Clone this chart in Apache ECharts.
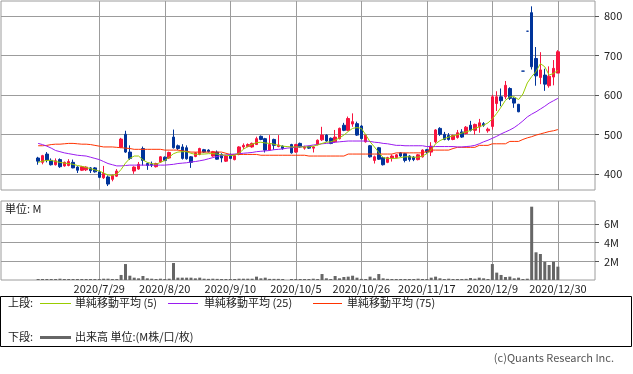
<!DOCTYPE html>
<html><head><meta charset="utf-8">
<script src="https://cdn.jsdelivr.net/npm/echarts@6/dist/echarts.min.js"></script>
<style>html,body{margin:0;padding:0;background:#fff}#c{width:633px;height:374px}</style>
</head><body><div id="c"></div>
<script>
// ---- categories (trading days) ----
const dates = ['2020/6/25','2020/6/26','2020/6/29','2020/6/30','2020/7/1','2020/7/2','2020/7/3','2020/7/6','2020/7/7','2020/7/8',
'2020/7/9','2020/7/10','2020/7/13','2020/7/14','2020/7/15','2020/7/16','2020/7/17','2020/7/20','2020/7/21','2020/7/22',
'2020/7/27','2020/7/28','2020/7/29','2020/7/30','2020/7/31','2020/8/3','2020/8/4','2020/8/5','2020/8/6','2020/8/7',
'2020/8/11','2020/8/12','2020/8/13','2020/8/14','2020/8/17','2020/8/18','2020/8/19','2020/8/20','2020/8/21','2020/8/24',
'2020/8/25','2020/8/26','2020/8/27','2020/8/28','2020/8/31','2020/9/1','2020/9/2','2020/9/3','2020/9/4','2020/9/7',
'2020/9/8','2020/9/9','2020/9/10','2020/9/11','2020/9/14','2020/9/15','2020/9/16','2020/9/17','2020/9/18','2020/9/23',
'2020/9/24','2020/9/25','2020/9/28','2020/9/29','2020/9/30','2020/10/1','2020/10/2','2020/10/5','2020/10/6','2020/10/7',
'2020/10/8','2020/10/9','2020/10/12','2020/10/13','2020/10/14','2020/10/15','2020/10/16','2020/10/19','2020/10/20','2020/10/21',
'2020/10/22','2020/10/23','2020/10/26','2020/10/27','2020/10/28','2020/10/29','2020/10/30','2020/11/2','2020/11/4','2020/11/5',
'2020/11/6','2020/11/9','2020/11/10','2020/11/11','2020/11/12','2020/11/13','2020/11/16','2020/11/17','2020/11/18','2020/11/19',
'2020/11/20','2020/11/24','2020/11/25','2020/11/26','2020/11/27','2020/11/30','2020/12/1','2020/12/2','2020/12/3','2020/12/4',
'2020/12/7','2020/12/8','2020/12/9','2020/12/10','2020/12/11','2020/12/14','2020/12/15','2020/12/16','2020/12/17','2020/12/18',
'2020/12/21','2020/12/22','2020/12/23','2020/12/24','2020/12/25','2020/12/28','2020/12/29','2020/12/30',
'2021/1/4','2021/1/5','2021/1/6','2021/1/7','2021/1/8','2021/1/12','2021/1/13','2021/1/14'];
const tickLabels = ['2020/7/29','2020/8/20','2020/9/10','2020/10/5','2020/10/26','2020/11/17','2020/12/9','2020/12/30'];
const firstDate = '2020/7/7';
const priceTicks = [400,500,600,700,800];
const volumeTicks = [2,4,6];

// ---- series values, from 2020/7/7 to 2020/12/30 ----
const open = [441,430,451,435,424,437,421,422,430,418,
410,411,416,416,406,391,393,387,395,468,
501,456,408,413,465,427,425,419,431,443,
441,494,472,469,467,444,445,450,462,461,
446,456,450,433,450,437,450,469,470,469,
475,496,490,461,488,470,471,null,475,456,
478,466,470,466,475,487,499,491,482,490,
524,511,527,528,522,482,472,435,467,442,
430,441,442,454,452,446,443,437,444,462,
456,482,516,501,498,488,493,507,503,524,
511,520,528,510,521,579,596,596,617,592,
577,661,762,809,693,645,651,624,646,656];
const close = [433,447,436,424,434,419,430,432,416,410,
419,418,409,406,392,402,375,397,408,489,
456,440,418,425,435,422,423,427,444,435,
455,467,465,440,439,430,454,465,456,457,
457,438,441,446,440,447,469,473,475,478,
490,488,461,475,473,474,465,null,454,475,
469,469,466,469,486,499,484,478,494,516,
511,541,533,499,490,499,444,444,438,424,
442,446,449,446,435,437,437,449,461,456,
471,512,501,488,488,498,505,494,519,511,
526,530,524,514,596,596,586,625,592,580,
558,661,762,672,649,664,628,648,668,710];
const low = [424,425,430,422,422,416,419,420,415,403,
408,408,403,404,390,388,370,382,393,466,
454,436,401,411,422,411,418,417,429,433,
439,465,461,437,437,416,443,448,454,455,
444,437,430,431,438,435,448,464,468,467,
474,486,455,459,462,468,462,null,452,454,
467,462,464,455,473,484,482,476,480,488,
509,509,520,497,488,480,442,427,436,422,
428,432,440,444,430,432,433,435,442,452,
446,478,497,486,485,486,490,492,501,508,
500,505,520,505,513,560,572,590,588,568,
557,661,762,665,624,628,611,619,625,656];
const high = [444,449,456,440,440,440,432,438,437,420,
421,420,418,418,410,421,397,399,413,492,
510,473,420,431,470,429,432,429,446,445,
457,513,475,476,473,446,456,467,464,463,
459,460,453,448,452,449,471,478,478,480,
495,498,492,499,490,499,473,null,477,477,
480,472,472,471,488,520,501,493,512,518,
530,546,554,533,524,501,474,447,469,443,
444,450,451,456,454,448,446,451,463,464,
481,514,519,507,504,500,512,514,522,535,
528,540,532,518,601,610,617,636,620,595,
578,661,762,825,722,709,667,673,689,714];
const volumeM = [0.05,0.05,0.05,0.05,0.06,0.14,0.06,0.05,0.05,0.05,
0.05,0.06,0.05,0.05,0.07,0.14,0.14,0.1,0.1,0.54,
1.71,0.46,0.25,0.18,0.43,0.18,0.14,0.1,0.14,0.1,
0.14,1.82,0.25,0.25,0.25,0.25,0.18,0.25,0.14,0.12,
0.14,0.12,0.1,0.08,0.08,0.1,0.14,0.14,0.14,0.14,
0.36,0.18,0.25,0.12,0.12,0.12,0.08,null,0.08,0.1,
0.06,0.07,0.08,0.14,0.1,0.64,0.18,0.1,0.43,0.18,
0.32,0.36,0.46,0.25,0.12,0.1,0.36,0.18,0.64,0.18,
0.12,0.08,0.06,0.06,0.06,0.06,0.08,0.14,0.08,0.06,
0.25,0.36,0.18,0.1,0.14,0.08,0.06,0.06,0.12,0.21,
0.14,0.25,0.18,0.1,1.71,0.79,0.54,0.32,0.36,0.18,
0.25,0.07,0.14,7.86,2.97,2.79,1.96,1.61,1.96,1.43];
const ma5 = [430,433,435,435,432,430,428,427,425,422,
420,417,414,411,408,403,398,397,400,412,
428,440,446,446,436,430,427,425,430,435,
443,452,456,457,457,453,450,451,451,452,
452,451,449,448,447,448,453,463,470,476,
480,481,479,478,476,473,471,470,469,469,
469,469,469,471,474,478,481,482,486,492,
499,508,516,518,516,500,482,469,455,442,
440,440,440,442,444,444,443,443,446,452,
462,477,485,490,494,497,500,504,507,511,
516,520,524,530,540,554,570,587,596,596,
589,603,631,647,660,680,672,651,655,663];
const ma25 = [478,475,471,466,460,457,454,452,450,448,
447,446,443,440,437,432,427,424,421,421,
422,423,423,423,423,423,423,423,423,423,
424,425,427,428,429,431,432,434,436,439,
442,445,447,449,450,451,452,453,454,455,
457,458,459,460,462,463,464,466,467,468,
469,471,472,474,475,477,478,479,481,482,
483,484,484,484,484,484,483,481,480,478,
477,475,473,473,472,472,472,472,472,470,
470,470,470,470,470,470,469,469,470,471,
473,477,482,486,491,496,502,507,512,518,
526,535,545,552,558,565,572,580,586,592];
const ma75 = [472,472,473,475,476,476,477,478,478,477,
476,476,475,473,471,469,469,469,468,467,
466,465,463,463,463,463,463,463,463,461,
461,461,461,459,458,456,456,456,456,456,
456,456,456,453,450,450,450,450,450,450,
450,448,448,448,448,448,448,448,448,448,
448,448,446,446,446,446,446,446,446,446,
446,451,451,451,451,451,451,451,451,451,
451,451,454,454,454,454,454,454,454,458,
461,461,461,461,461,465,468,468,468,468,
468,473,473,473,477,477,477,477,483,483,
483,488,492,495,499,502,505,508,510,513];

// ---- build ----
const start = dates.indexOf(firstDate);
function pad(arr) {
  return dates.map((d, i) => {
    const k = i - start;
    const v = (k >= 0 && k < arr.length) ? arr[k] : null;
    return v == null ? '-' : v;
  });
}
const candles = dates.map((d, i) => {
  const k = i - start;
  if (k < 0 || k >= open.length || open[k] == null) return '-';
  return [open[k], close[k], low[k], high[k]];
});
const FONT = '"Noto Sans CJK JP", "Noto Sans", sans-serif';
const GRID = '#9c9c9c';
const TXT = '#222';
const UP = '#f8143f';
const DOWN = '#00349a';
const vLines = tickLabels.map(d => ({ xAxis: d }));
const gridMark = {
  silent: true, z: 1, animation: false, symbol: ['none', 'none'],
  label: { show: false }, emphasis: { disabled: true },
  lineStyle: { color: GRID, type: 'solid', width: 1 }, data: vLines
};

const chart = echarts.init(document.getElementById('c'));
chart.setOption({
  animation: false,
  textStyle: { fontFamily: FONT },
  grid: [
    { left: 1, top: 1, width: 594, height: 189, show: true, borderColor: GRID, borderWidth: 1 },
    { left: 1, top: 201, width: 594, height: 79, show: true, borderColor: GRID, borderWidth: 1 }
  ],
  xAxis: [
    { type: 'category', gridIndex: 0, data: dates, boundaryGap: true,
      axisLine: { show: false }, axisTick: { show: false }, axisLabel: { show: false }, splitLine: { show: false } },
    { type: 'category', gridIndex: 1, data: dates, boundaryGap: true,
      axisLine: { show: false }, axisTick: { show: false }, splitLine: { show: false },
      axisLabel: { show: true, interval: (i, v) => tickLabels.indexOf(v) >= 0, color: TXT, fontSize: 11, margin: 3, fontFamily: FONT } }
  ],
  yAxis: [
    { type: 'value', gridIndex: 0, position: 'right', min: 360, max: 838.5, scale: true,
      axisLine: { show: false },
      axisTick: { show: true, length: 4, customValues: priceTicks, lineStyle: { color: '#555' } },
      axisLabel: { customValues: priceTicks, margin: 9, color: TXT, fontSize: 11, fontFamily: FONT },
      splitLine: { show: true, lineStyle: { color: GRID, width: 1 } } },
    { type: 'value', gridIndex: 1, position: 'right', min: 0, max: 8.47,
      axisLine: { show: false },
      axisTick: { show: true, length: 4, customValues: volumeTicks, lineStyle: { color: '#555' } },
      axisLabel: { customValues: volumeTicks, margin: 9, color: TXT, fontSize: 11, fontFamily: FONT,
        formatter: v => (volumeTicks.indexOf(v) >= 0 ? v + 'M' : '') },
      splitLine: { show: true, lineStyle: { color: GRID, width: 1 } } }
  ],
  series: [
    { type: 'candlestick', xAxisIndex: 0, yAxisIndex: 0, data: candles, barWidth: 3, z: 3,
      itemStyle: { color: UP, color0: DOWN, borderColor: UP, borderColor0: DOWN, borderColorDoji: DOWN, borderWidth: 1 },
      markLine: gridMark },
    { type: 'line', xAxisIndex: 0, yAxisIndex: 0, data: pad(ma75), symbol: 'none', z: 4,
      lineStyle: { color: '#ff3300', width: 1 } },
    { type: 'line', xAxisIndex: 0, yAxisIndex: 0, data: pad(ma25), symbol: 'none', z: 4,
      lineStyle: { color: '#9a1cf0', width: 1 } },
    { type: 'line', xAxisIndex: 0, yAxisIndex: 0, data: pad(ma5), symbol: 'none', z: 4,
      lineStyle: { color: '#99cc00', width: 1 } },
    { type: 'bar', xAxisIndex: 1, yAxisIndex: 1, data: pad(volumeM), barWidth: 3, barMinHeight: 1, z: 3,
      itemStyle: { color: '#666666' }, markLine: gridMark }
  ],
  graphic: [
    { type: 'text', left: 5, top: 203, silent: true, style: { text: '単位: M', fontSize: 11, fontFamily: FONT, fill: TXT } },
    { type: 'rect', silent: true, shape: { x: 0.5, y: 296.5, width: 631, height: 50 }, style: { fill: '#fff', stroke: '#000', lineWidth: 1 } },
    { type: 'text', x: 8, y: 303, silent: true, style: { text: '上段:', fontSize: 11, fontFamily: FONT, fill: TXT, verticalAlign: 'middle' } },
    { type: 'line', silent: true, shape: { x1: 40, y1: 303.5, x2: 71, y2: 303.5 }, style: { stroke: '#99cc00', lineWidth: 1 } },
    { type: 'text', x: 75, y: 303, silent: true, style: { text: '単純移動平均 (5)', fontSize: 11, fontFamily: FONT, fill: TXT, verticalAlign: 'middle' } },
    { type: 'line', silent: true, shape: { x1: 168, y1: 303.5, x2: 198, y2: 303.5 }, style: { stroke: '#9a1cf0', lineWidth: 1 } },
    { type: 'text', x: 204, y: 303, silent: true, style: { text: '単純移動平均 (25)', fontSize: 11, fontFamily: FONT, fill: TXT, verticalAlign: 'middle' } },
    { type: 'line', silent: true, shape: { x1: 313, y1: 303.5, x2: 342, y2: 303.5 }, style: { stroke: '#ff3300', lineWidth: 1 } },
    { type: 'text', x: 347, y: 303, silent: true, style: { text: '単純移動平均 (75)', fontSize: 11, fontFamily: FONT, fill: TXT, verticalAlign: 'middle' } },
    { type: 'text', x: 8, y: 337, silent: true, style: { text: '下段:', fontSize: 11, fontFamily: FONT, fill: TXT, verticalAlign: 'middle' } },
    { type: 'line', silent: true, shape: { x1: 40, y1: 337.5, x2: 71, y2: 337.5 }, style: { stroke: '#666666', lineWidth: 3 } },
    { type: 'text', x: 75, y: 337, silent: true, style: { text: '出来高 単位:(M株/口/枚)', fontSize: 11, fontFamily: FONT, fill: TXT, verticalAlign: 'middle' } },
    { type: 'text', x: 614, y: 358, silent: true, style: { text: '(c)Quants Research Inc.', fontSize: 11, fontFamily: FONT, fill: '#555', align: 'right', verticalAlign: 'middle' } }
  ]
});
</script>
</body></html>
